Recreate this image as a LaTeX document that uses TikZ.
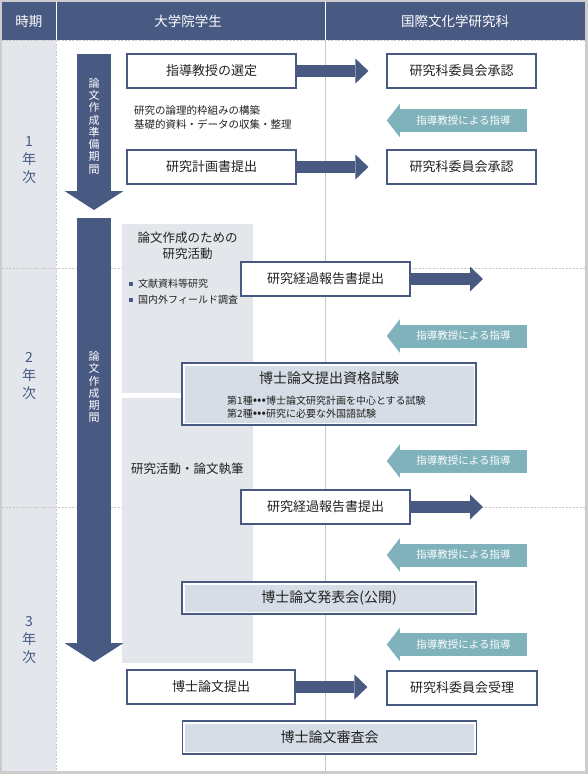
\documentclass[tikz,border=0pt]{standalone}
\usepackage{fontspec}
\setmainfont{Noto Sans CJK JP}
\usetikzlibrary{arrows.meta,positioning}

\definecolor{navy}{RGB}{72,90,130}
\definecolor{guidecol}{RGB}{127,178,187}
\definecolor{panelgray}{RGB}{227,230,235}
\definecolor{framegray}{RGB}{204,204,204}
\definecolor{rulegray}{RGB}{200,200,200}
\definecolor{hatchcol}{RGB}{214,221,230}
\definecolor{ink}{RGB}{34,34,34}

\newcommand{\kinddots}{{\fontsize{13}{12.5}\selectfont •••}}

\tikzset{
  box/.style={draw=navy, line width=1.2pt, fill=white, text=ink, minimum height=34pt, inner sep=0pt, font=\fontsize{13}{15}\selectfont},
  hatchbox/.style={box, minimum width=294pt, font=\fontsize{14}{16}\selectfont,
    path picture={\fill[hatchcol] ([shift={(2.5pt,-2.5pt)}]path picture bounding box.north west) rectangle ([shift={(-2.5pt,2.5pt)}]path picture bounding box.south east);}},
  flow/.style={navy, line width=12pt, -{Triangle[length=13pt, width=25pt, line width=0pt]}},
  period/.style={navy, line width=34pt, -{Triangle[length=19pt, width=59pt, line width=0pt]}},
  guide/.style={fill=guidecol, text=white, minimum width=127pt, minimum height=23pt, inner sep=0pt, font=\fontsize{10.5}{12}\selectfont},
  headtext/.style={text=white, font=\fontsize{13.5}{15}\selectfont},
  year/.style={text=navy, align=center, font=\fontsize{14}{18}\selectfont},
  vlabel/.style={text=white, align=center, font=\fontsize{11}{12.3}\selectfont},
  note/.style={text=ink, align=left, anchor=west, inner sep=0pt, font=\fontsize{10.5}{14}\selectfont},
  dashrule/.style={rulegray, line width=0.8pt, dash pattern=on 2pt off 1.5pt}
}

\begin{document}
\begin{tikzpicture}[x=1pt, y=-1pt]

\useasboundingbox (0,0) rectangle (588,774);
\fill[framegray] (0,0) rectangle (588,774);
\fill[white] (2,2) rectangle (585,771);
\fill[panelgray] (2,40) rectangle (56,771);

% header
\fill[navy] (2,2) rectangle (585,40);
\draw[white, line width=1pt] (56,2) -- (56,40);
\draw[white, line width=1pt] (325,2) -- (325,40);
\node[headtext] (hdterm) at (29,21) {時期};
\node[headtext] (hdstudent) at (188,21) {大学院学生};
\node[headtext] (hdschool) at (455,21) {国際文化学研究科};

\draw[dashrule] (2,40.5) -- (585,40.5);
\draw[dashrule] (2,268) -- (585,268);
\draw[dashrule] (2,507) -- (585,507);
\draw[dashrule] (56,40) -- (56,771);
\draw[rulegray, line width=1pt] (325,40) -- (325,771);

\node[year] (y1) at (29,160) {1\\年\\次};
\node[year] (y2) at (29,376) {2\\年\\次};
\node[year] (y3) at (29,640) {3\\年\\次};

% research panel
\fill[panelgray] (122,224) rectangle (253,393);
\fill[panelgray] (122,398) rectangle (253,663);

\draw[period] (94,54) -- (94,210);
\node[vlabel] (prepterm) at (94,126) {論\\文\\作\\成\\準\\備\\期\\間};
\draw[period] (94,218) -- (94,662);
\node[vlabel] (writeterm) at (94,387) {論\\文\\作\\成\\期\\間};

\node[note] (prep) at (134,117) {研究の論理的枠組みの構築\\基礎的資料・データの収集・整理};
\node[text=ink, align=center, font=\fontsize{12.5}{16}\selectfont] (act) at (187.5,246) {論文作成のための\\研究活動};
\node[note, font=\fontsize{10}{12}\selectfont] (lit) at (129,284) {\textcolor{navy}{\rule[1.5pt]{4pt}{4pt}}\hspace{5pt}文献資料等研究};
\node[note, font=\fontsize{10}{12}\selectfont] (field) at (129,300) {\textcolor{navy}{\rule[1.5pt]{4pt}{4pt}}\hspace{5pt}国内外フィールド調査};
\node[note, font=\fontsize{12.5}{14}\selectfont] (write) at (131,469) {研究活動・論文執筆};

% steps
\node[box, minimum width=169pt] (sel) at (211.5,71) {指導教授の選定};
\node[box, minimum width=149pt] (app1) at (461.5,71) {研究科委員会承認};
\node[box, minimum width=169pt] (plan) at (211.5,167) {研究計画書提出};
\node[box, minimum width=149pt] (app2) at (461.5,167) {研究科委員会承認};
\node[box, minimum width=169pt] (rep1) at (325.5,279) {研究経過報告書提出};
\node[hatchbox, minimum height=62pt] (exam) at (329,394) {};
\node[text=ink, inner sep=0pt, font=\fontsize{14}{16}\selectfont, below=9pt of exam.north] (examt) {博士論文提出資格試験};
\node[note, font=\fontsize{10}{12.5}\selectfont] (examd) at (227,407) {第1種\kinddots 博士論文研究計画を中心とする試験\\第2種\kinddots 研究に必要な外国語試験};
\node[box, minimum width=169pt] (rep2) at (325.5,507) {研究経過報告書提出};
\node[hatchbox, minimum height=32pt] (pres) at (329,598) {博士論文発表会(公開)};
\node[box, minimum width=168pt] (subm) at (211,687) {博士論文提出};
\node[box, minimum width=150pt] (rcpt) at (462,688) {研究科委員会受理};
\node[hatchbox, minimum height=33pt] (jury) at (329.5,737.5) {博士論文審査会};

\coordinate (rep1end) at (483,279);
\coordinate (rep2end) at (483,507);
\draw[flow] (sel.east) -- ([xshift=-18pt]app1.west);
\draw[flow] (plan.east) -- ([xshift=-18pt]app2.west);
\draw[flow] (rep1.east) -- (rep1end);
\draw[flow] (rep2.east) -- (rep2end);
\draw[flow] (subm.east) -- ([xshift=-19pt]rcpt.west |- subm.east);

\foreach \n/\y in {g1/120.5, g2/336, g3/461, g4/555, g5/644.5}{
  \node[guide] (\n) at (463.5,\y) {指導教授による指導};
  \fill[guidecol] ([yshift=5pt]\n.north west) -- ([yshift=-5pt]\n.south west) -- ([xshift=-13pt]\n.west) -- cycle;
}

\end{tikzpicture}
\end{document}
